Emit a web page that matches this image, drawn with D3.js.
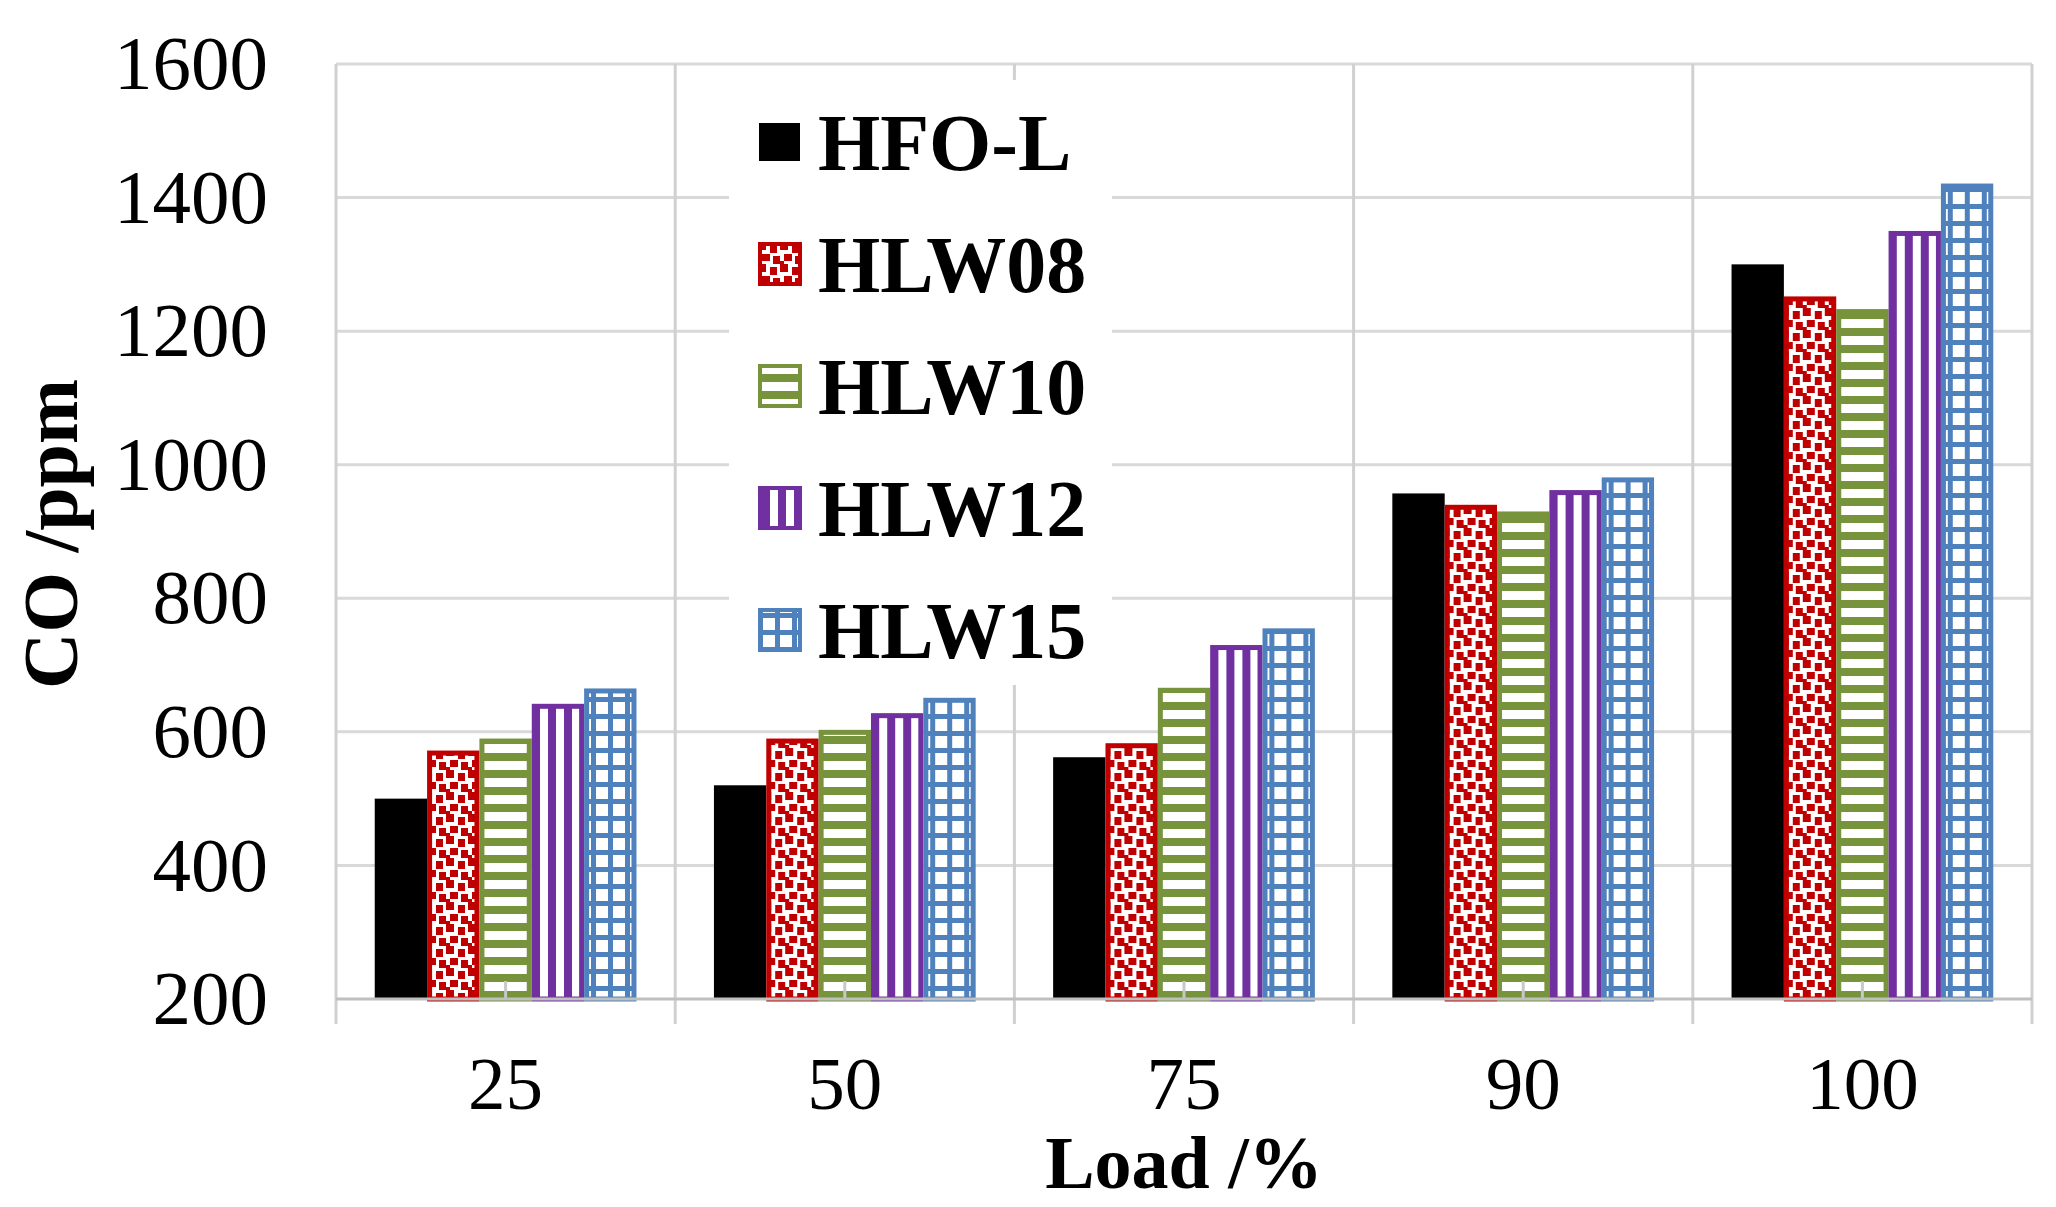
<!DOCTYPE html>
<html>
<head>
<meta charset="utf-8">
<script src="https://cdn.jsdelivr.net/npm/d3@7"></script>
<style>
    body { margin: 0; background: white; }
    text { font-family: "Liberation Serif", "Times New Roman", serif; fill: black; }
</style>
</head>
<body>
<div id="chart"></div>
<script>
// loads and CO values
const loads = ['25', '50', '75', '90', '100'];
const seriesNames = ['HFO-L', 'HLW08', 'HLW10', 'HLW12', 'HLW15'];
const hfoL  = [500, 520, 562, 957, 1300];
const hlw08 = [572, 590, 583, 940, 1252];
const hlw10 = [590, 603, 666, 930, 1233];
const hlw12 = [642, 628, 730, 962, 1350];
const hlw15 = [665, 651, 755, 981, 1421];
const yTicks = [200, 400, 600, 800, 1000, 1200, 1400, 1600];

const seriesValues = [hfoL, hlw08, hlw10, hlw12, hlw15];
const colors = ['#000000', '#C00000', '#77933C', '#7030A0', '#4F81BD'];

const width = 2056, height = 1207;
const plotLeft = 336, plotRight = 2032, plotTop = 64, plotBottom = 999;

const svg = d3.select('#chart')
    .append('svg')
    .attr('width', width)
    .attr('height', height);

// fill patterns, close to the Excel ones
const defs = svg.append('defs');

const confetti = defs.append('pattern')
    .attr('id', 'pat1')
    .attr('patternUnits', 'userSpaceOnUse')
    .attr('width', 22).attr('height', 22);
confetti.append('rect').attr('width', 22).attr('height', 22).attr('fill', 'white');
[[0, 0, 8, 8], [12, 3, 7, 8], [4, 12, 8, 7], [15, 14, 7, 8], [0, 19, 4, 3]].forEach(r => {
    confetti.append('rect')
        .attr('x', r[0]).attr('y', r[1]).attr('width', r[2]).attr('height', r[3])
        .attr('fill', colors[1]);
});

const hStripes = defs.append('pattern')
    .attr('id', 'pat2')
    .attr('patternUnits', 'userSpaceOnUse')
    .attr('width', 17).attr('height', 17);
hStripes.append('rect').attr('width', 17).attr('height', 17).attr('fill', 'white');
hStripes.append('rect').attr('y', 5).attr('width', 17).attr('height', 8).attr('fill', colors[2]);

const vStripes = defs.append('pattern')
    .attr('id', 'pat3')
    .attr('patternUnits', 'userSpaceOnUse')
    .attr('width', 16).attr('height', 16);
vStripes.append('rect').attr('width', 16).attr('height', 16).attr('fill', 'white');
vStripes.append('rect').attr('x', 4).attr('width', 8).attr('height', 16).attr('fill', colors[3]);

const grid = defs.append('pattern')
    .attr('id', 'pat4')
    .attr('patternUnits', 'userSpaceOnUse')
    .attr('width', 17).attr('height', 17);
grid.append('rect').attr('width', 17).attr('height', 17).attr('fill', 'white');
grid.append('rect').attr('x', 0).attr('width', 5).attr('height', 17).attr('fill', colors[4]);
grid.append('rect').attr('y', 0).attr('width', 17).attr('height', 5).attr('fill', colors[4]);

const fills = [colors[0], 'url(#pat1)', 'url(#pat2)', 'url(#pat3)', 'url(#pat4)'];

// scales
const x0 = d3.scaleBand()
    .domain(loads)
    .range([plotLeft, plotRight]);

const x1 = d3.scaleBand()
    .domain(seriesNames)
    .range([0, x0.bandwidth()])
    .paddingInner(0)
    .paddingOuter(0.74);

const y = d3.scaleLinear()
    .domain([200, 1600])
    .range([plotBottom, plotTop]);

// horizontal gridlines
svg.append('g')
    .selectAll('line')
    .data(yTicks.slice(1))
    .join('line')
    .attr('x1', plotLeft).attr('x2', plotRight)
    .attr('y1', d => y(d)).attr('y2', d => y(d))
    .attr('stroke', '#d9d9d9')
    .attr('stroke-width', 3);

// vertical category boundaries, running below the axis as ticks
const bounds = loads.map(d => x0(d)).concat([plotRight]);
svg.append('g')
    .selectAll('line')
    .data(bounds)
    .join('line')
    .attr('x1', d => d).attr('x2', d => d)
    .attr('y1', plotTop).attr('y2', plotBottom + 25)
    .attr('stroke', '#d0d0d0')
    .attr('stroke-width', 3);

// bars
const groups = svg.append('g')
    .selectAll('g')
    .data(loads)
    .join('g')
    .attr('transform', d => `translate(${x0(d)},0)`);

const sw = 5;
groups.selectAll('rect')
    .data((d, gi) => seriesNames.map((s, si) => ({ s: s, si: si, v: seriesValues[si][gi] })))
    .join('rect')
    .attr('x', d => x1(d.s) + (d.si === 0 ? 0 : sw / 2))
    .attr('y', d => y(d.v) + (d.si === 0 ? 0 : sw / 2))
    .attr('width', d => x1.bandwidth() - (d.si === 0 ? 0 : sw))
    .attr('height', d => plotBottom - y(d.v) - (d.si === 0 ? 0 : sw / 2))
    .attr('fill', d => fills[d.si])
    .attr('stroke', d => d.si === 0 ? 'none' : colors[d.si])
    .attr('stroke-width', sw);

// small ticks at the category centres
svg.append('g')
    .selectAll('line')
    .data(loads)
    .join('line')
    .attr('x1', d => x0(d) + x0.bandwidth() / 2)
    .attr('x2', d => x0(d) + x0.bandwidth() / 2)
    .attr('y1', plotBottom - 18).attr('y2', plotBottom)
    .attr('stroke', '#c8c8c8')
    .attr('stroke-width', 3);

// axis line at 200
svg.append('line')
    .attr('x1', plotLeft).attr('x2', plotRight)
    .attr('y1', plotBottom).attr('y2', plotBottom)
    .attr('stroke', '#bfbfbf')
    .attr('stroke-width', 3);

// y axis labels
const yAxis = svg.append('g')
    .attr('transform', `translate(${plotLeft},0)`)
    .call(d3.axisLeft(y).tickValues(yTicks).tickFormat(d3.format('d')).tickSize(0).tickPadding(68));
yAxis.select('.domain').remove();
yAxis.selectAll('text')
    .style('font-family', '"Liberation Serif", serif')
    .style('font-size', '77px');

// x axis labels
const xAxis = svg.append('g')
    .attr('transform', `translate(0,${plotBottom})`)
    .call(d3.axisBottom(x0).tickSize(0).tickPadding(57));
xAxis.select('.domain').remove();
xAxis.selectAll('text')
    .style('font-family', '"Liberation Serif", serif')
    .style('font-size', '75px');

// axis titles
svg.append('text')
    .attr('x', (plotLeft + plotRight) / 2)
    .attr('y', 1188)
    .attr('text-anchor', 'middle')
    .style('font-size', '74px')
    .style('font-weight', 'bold')
    .text('Load /%');

svg.append('text')
    .attr('transform', 'translate(77,534) rotate(-90)')
    .attr('text-anchor', 'middle')
    .style('font-size', '78px')
    .style('font-weight', 'bold')
    .text('CO /ppm');

// legend
const legend = svg.append('g');
legend.append('rect')
    .attr('x', 729).attr('y', 80)
    .attr('width', 383).attr('height', 605)
    .attr('fill', 'white');

const items = legend.selectAll('.item')
    .data(seriesNames)
    .join('g')
    .classed('item', true)
    .attr('transform', (d, i) => `translate(758,${142 + 122 * i})`);

items.append('rect')
    .attr('x', (d, i) => i === 0 ? 1 : 2)
    .attr('y', (d, i) => i === 0 ? -19 : -20)
    .attr('width', (d, i) => i === 0 ? 41 : 40)
    .attr('height', (d, i) => i === 0 ? 38 : 40)
    .attr('fill', (d, i) => fills[i])
    .attr('stroke', (d, i) => i === 0 ? 'none' : colors[i])
    .attr('stroke-width', 4);

items.append('text')
    .attr('x', 60)
    .attr('y', 28)
    .style('font-size', '80px')
    .style('font-weight', 'bold')
    .text(d => d);
</script>
</body>
</html>
